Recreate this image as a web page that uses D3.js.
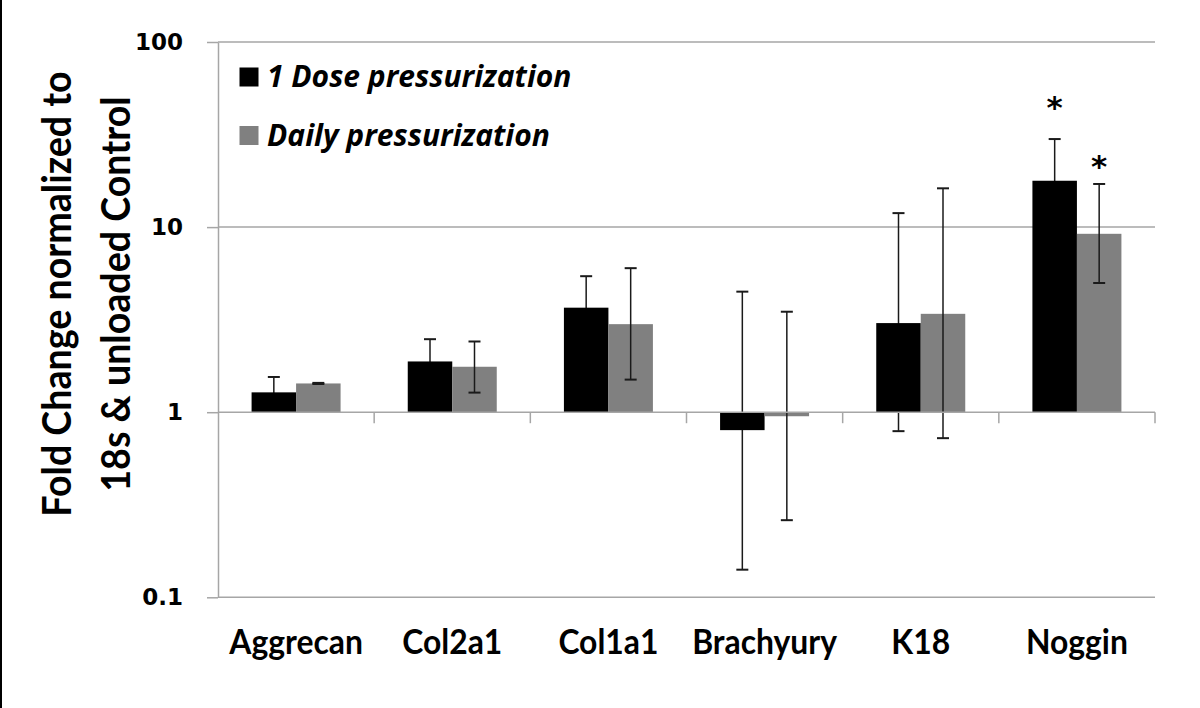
<!DOCTYPE html>
<html>
<head>
<meta charset="utf-8">
<script src="https://cdn.jsdelivr.net/npm/d3@7"></script>
<style>
  html, body { margin: 0; padding: 0; background: #fff; }
  svg { display: block; }
</style>
</head>
<body>
<svg id="chart" width="1200" height="708"></svg>
<script>
// ---- data ----
const categories = ["Aggrecan", "Col2a1", "Col1a1", "Brachyury", "K18", "Noggin"];
const seriesNames = ["1 Dose pressurization", "Daily pressurization"];
const doseValues = [1.28, 1.88, 3.67, 0.80, 3.03, 17.8];
const doseErrHigh = [1.55, 2.48, 5.43, 4.48, 11.9, 29.9];
const doseErrLow = [1.05, 1.40, 2.20, 0.141, 0.79, 6.0];
const dailyValues = [1.43, 1.76, 2.99, 0.951, 3.40, 9.2];
const dailyErrHigh = [1.44, 2.41, 6.0, 3.49, 16.2, 17.1];
const dailyErrLow = [1.42, 1.276, 1.50, 0.261, 0.724, 4.99];
const significant = [[false, false], [false, false], [false, false], [false, false], [false, false], [true, true]];
const yTicks = [0.1, 1, 10, 100];
const yTickLabels = ["0.1", "1", "10", "100"];
const yTitleLines = ["Fold Change normalized to", "18s & unloaded Control"];

// ---- layout ----
const svg = d3.select("#chart");
const mLeft = 218, mRight = 1155, mTop = 42, mBottom = 597.3;
const colors = ["#000000", "#808080"];
const starLift = [21, 7];

const y = d3.scaleLog().domain([0.1, 100]).range([mBottom, mTop]);
const x0 = d3.scaleBand().domain(categories).range([mLeft, mRight]).padding(0);
const bw = x0.bandwidth();
const x1 = d3.scaleBand().domain(seriesNames).range([bw / 2 - 44.5, bw / 2 + 44.5]).padding(0);

function condense(sel, f) {
  sel.each(function () {
    const L = this.getComputedTextLength();
    d3.select(this).attr("textLength", L * f).attr("lengthAdjust", "spacingAndGlyphs");
  });
}

// left black border
svg.append("rect").attr("x", 0).attr("y", 0).attr("width", 2).attr("height", 708).attr("fill", "#000");

// grid lines (100, 10, 0.1)
svg.append("g").selectAll("line").data([100, 10, 0.1]).join("line")
  .attr("x1", mLeft).attr("x2", mRight)
  .attr("y1", d => y(d)).attr("y2", d => y(d))
  .attr("stroke", "#a6a6a6").attr("stroke-width", 1.5);

// y axis
const yAxis = svg.append("g").attr("transform", `translate(${mLeft},0)`)
  .call(d3.axisLeft(y).tickValues(yTicks).tickFormat((d, i) => yTickLabels[i])
    .tickSize(11).tickSizeOuter(0).tickPadding(24));
yAxis.select(".domain").attr("stroke", "#a6a6a6").attr("stroke-width", 1.5);
yAxis.selectAll(".tick line").attr("stroke", "#a6a6a6").attr("stroke-width", 1.5);
yAxis.selectAll(".tick text")
  .attr("font-family", "DejaVu Sans, Verdana, sans-serif")
  .attr("font-weight", "bold").attr("font-size", 23).attr("fill", "#000");

// data table
const data = categories.map((c, i) => ({
  cat: c,
  vals: [
    { s: 0, v: doseValues[i], hi: doseErrHigh[i], lo: doseErrLow[i], sig: significant[i][0] },
    { s: 1, v: dailyValues[i], hi: dailyErrHigh[i], lo: dailyErrLow[i], sig: significant[i][1] }
  ]
}));

const groups = svg.append("g").selectAll("g").data(data).join("g")
  .attr("transform", d => `translate(${x0(d.cat)},0)`);

function drawErr(g, s) {
  const eb = g.selectAll("g.eb" + s).data(d => d.vals.filter(v => v.s === s)).join("g")
    .attr("class", "eb" + s)
    .attr("transform", d => `translate(${x1(seriesNames[d.s]) + x1.bandwidth() / 2},0)`);
  eb.append("line").attr("x1", 0).attr("x2", 0)
    .attr("y1", d => y(d.hi)).attr("y2", d => y(d.lo))
    .attr("stroke", "#1a1a1a").attr("stroke-width", 1.5);
  eb.append("line").attr("x1", -6).attr("x2", 6)
    .attr("y1", d => y(d.hi)).attr("y2", d => y(d.hi))
    .attr("stroke", "#1a1a1a").attr("stroke-width", 2);
  eb.append("line").attr("x1", -6).attr("x2", 6)
    .attr("y1", d => y(d.lo)).attr("y2", d => y(d.lo))
    .attr("stroke", "#1a1a1a").attr("stroke-width", 2);
  eb.filter(d => d.sig).append("text")
    .attr("x", 0).attr("y", d => y(d.hi) - starLift[d.s])
    .attr("text-anchor", "middle")
    .attr("font-family", "DejaVu Sans, sans-serif").attr("font-weight", "bold")
    .attr("font-size", 31).attr("fill", "#000").text("*");
}

// dose error bars sit behind the black bars
drawErr(groups, 0);

groups.selectAll("rect").data(d => d.vals).join("rect")
  .attr("x", d => x1(seriesNames[d.s]))
  .attr("width", x1.bandwidth())
  .attr("y", d => Math.min(y(d.v), y(1)))
  .attr("height", d => Math.abs(y(d.v) - y(1)))
  .attr("fill", d => colors[d.s]);

// category axis at 1
const xAxis = svg.append("g").attr("transform", `translate(0,${y(1)})`);
xAxis.append("line").attr("x1", mLeft).attr("x2", mRight).attr("y1", 0).attr("y2", 0)
  .attr("stroke", "#a6a6a6").attr("stroke-width", 1.5);
xAxis.selectAll("line.tk").data(categories.slice(1).map(c => x0(c)).concat([mRight])).join("line")
  .attr("class", "tk")
  .attr("x1", d => d).attr("x2", d => d).attr("y1", 0).attr("y2", 11)
  .attr("stroke", "#a6a6a6").attr("stroke-width", 1.5);

// daily error bars over the gray bars
drawErr(groups, 1);

// category labels
svg.append("g").selectAll("text").data(categories).join("text")
  .attr("x", d => x0(d) + bw / 2).attr("y", 654)
  .attr("text-anchor", "middle")
  .attr("font-family", "Lato, sans-serif").attr("font-weight", "bold")
  .attr("font-size", 35).attr("fill", "#000").text(d => d)
  .call(condense, 0.91);

// legend
const leg = svg.append("g").selectAll("g").data(seriesNames).join("g")
  .attr("transform", (d, i) => `translate(0,${i * 58.5})`);
leg.append("rect").attr("x", 239.5).attr("y", 67.5).attr("width", 19).attr("height", 19)
  .attr("fill", (d, i) => colors[i]);
leg.append("text").attr("x", 267).attr("y", 87)
  .attr("font-family", "Open Sans, sans-serif").attr("font-weight", "bold").attr("font-style", "italic")
  .attr("font-size", 30).attr("fill", "#000").text(d => d);

// y title
const yt = svg.append("g").attr("transform", "translate(0,294) rotate(-90)");
yt.selectAll("text").data(yTitleLines).join("text")
  .attr("x", 0).attr("y", (d, i) => 71 + i * 59)
  .attr("text-anchor", "middle")
  .attr("font-family", "Lato, sans-serif").attr("font-weight", "bold")
  .attr("font-size", 40).attr("fill", "#000").text(d => d)
  .call(condense, 0.94);
</script>
</body>
</html>
